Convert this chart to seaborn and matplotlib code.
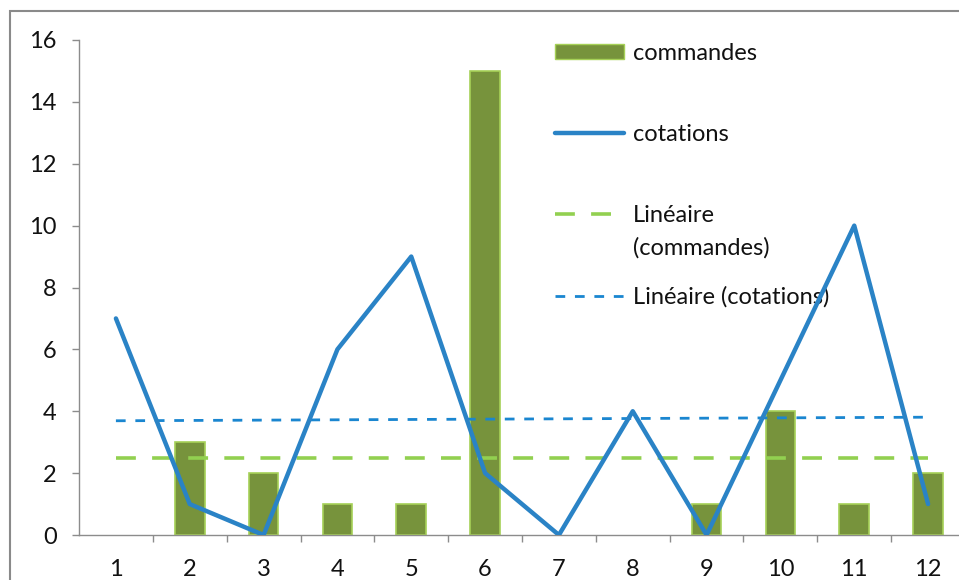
import numpy as np
import pandas as pd
import matplotlib
matplotlib.use("Agg")
import matplotlib.pyplot as plt
from matplotlib.lines import Line2D
from matplotlib.patches import Patch, Rectangle
import seaborn as sns

# ==============================
# Données
# ==============================
mois = ["1", "2", "3", "4", "5", "6", "7", "8", "9", "10", "11", "12"]
commandes = [0, 3, 2, 1, 1, 15, 0, 0, 1, 4, 1, 2]
cotations = [7, 1, 0, 6, 9, 2, 0, 4, 0, 5, 10, 1]
y_ticks = [0, 2, 4, 6, 8, 10, 12, 14, 16]

BAR_COLOR = "#77933C"
BAR_EDGE = "#A6D157"
LINE_COLOR = "#2A83C6"
TREND_GREEN = "#92D050"
TREND_BLUE = "#1A86D0"
AXIS_GRAY = "#8C8C8C"
FS = 17

sns.set_style("white")
plt.rcParams["font.family"] = ["Lato", "DejaVu Sans"]

df = pd.DataFrame({"mois": mois, "pos": np.arange(len(mois)),
                   "commandes": commandes, "cotations": cotations})

fig = plt.figure(figsize=(9.59, 5.8), dpi=100)
ax = fig.add_axes([79 / 959, 45 / 580, 886 / 959, 495 / 580])

# barres
sns.barplot(data=df, x="mois", y="commandes", color=BAR_COLOR, width=0.4,
            edgecolor=BAR_EDGE, linewidth=1.2, saturation=1, ax=ax, zorder=2)
for p in ax.patches:
    if p.get_height() == 0:
        p.set_visible(False)

# tendances linéaires
sns.regplot(data=df, x="pos", y="commandes", scatter=False, ci=None, ax=ax,
            line_kws=dict(color=TREND_GREEN, lw=2.6, ls=(0, (5.5, 4.5)), zorder=3))
sns.regplot(data=df, x="pos", y="cotations", scatter=False, ci=None, ax=ax,
            line_kws=dict(color=TREND_BLUE, lw=2.0, ls=(0, (3.5, 3.5)), zorder=3))

# courbe cotations (au-dessus de la légende, comme dans Excel)
sns.lineplot(data=df, x="pos", y="cotations", color=LINE_COLOR, lw=3.2, ax=ax,
             zorder=7, solid_joinstyle="round", solid_capstyle="round")

ax.set_xlim(-0.5, len(mois) - 0.5)
ax.set_ylim(0, 16)
ax.set_yticks(y_ticks)
ax.set_xticks(np.arange(len(mois)))
ax.set_xticklabels(mois)
ax.set_xticks(np.arange(len(mois)) + 0.5, minor=True)
ax.set_xlabel("")
ax.set_ylabel("")

for s in ["top", "right"]:
    ax.spines[s].set_visible(False)
for s in ["left", "bottom"]:
    ax.spines[s].set_color(AXIS_GRAY)
    ax.spines[s].set_linewidth(1.0)

ax.tick_params(axis="y", direction="out", length=5, width=1, color=AXIS_GRAY,
               pad=11, labelsize=FS, labelcolor="#111111", left=True)
ax.tick_params(axis="x", which="major", length=0, pad=17, labelsize=FS,
               labelcolor="#111111")
ax.tick_params(axis="x", which="minor", direction="out", length=5, width=1,
               color=AXIS_GRAY, bottom=True)

# légende
handles = [Patch(facecolor=BAR_COLOR, edgecolor=BAR_EDGE, linewidth=1.0),
           Line2D([], [], color=LINE_COLOR, lw=3.2, solid_capstyle="round"),
           Line2D([], [], color=TREND_GREEN, lw=2.6, ls=(0, (5.5, 4.5))),
           Line2D([], [], color=TREND_BLUE, lw=2.0, ls=(0, (3.5, 3.5)))]
labels = ["commandes", "cotations", "Linéaire", "Linéaire (cotations)"]
leg = ax.legend(handles, labels, loc="upper left",
                bbox_to_anchor=(543 / 959, 1 - 31 / 580), bbox_transform=fig.transFigure,
                frameon=False, fontsize=FS, handlelength=2.95, handleheight=0.62,
                handletextpad=0.35, labelspacing=2.55, borderpad=0)
for t in leg.get_texts():
    t.set_color("#111111")
ax.annotate("(commandes)", xy=(0, 0), xycoords=leg.get_texts()[2],
            xytext=(0, -8), textcoords="offset points", va="top", ha="left",
            fontsize=FS, color="#111111", zorder=6, annotation_clip=False)

# cadre extérieur (coupé à droite et en bas)
fig.patches.append(Rectangle((10 / 959, -0.1), 1.2, 1.1 - 11 / 580, transform=fig.transFigure,
                             fill=False, edgecolor="#8A8A8A", linewidth=1.5))

fig.savefig("out.png", dpi=100)
